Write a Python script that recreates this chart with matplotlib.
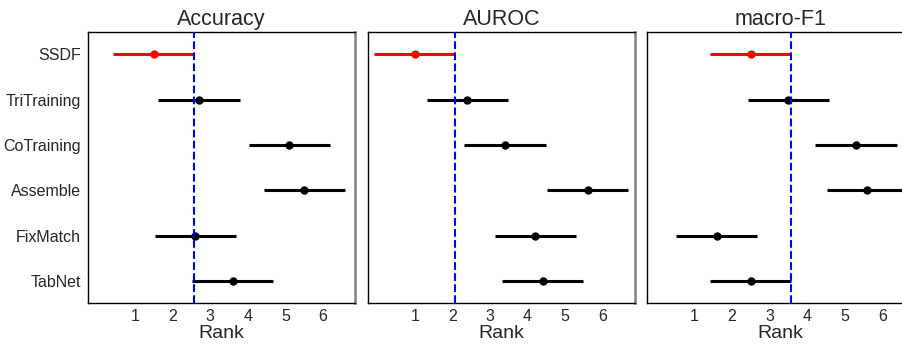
import matplotlib
matplotlib.use("Agg")
import matplotlib.pyplot as plt
import numpy as np

plt.rcParams['font.family'] = ['Liberation Sans', 'DejaVu Sans']

methods = ["SSDF", "TriTraining", "CoTraining", "Assemble", "FixMatch", "TabNet"]
metrics = ["Accuracy", "AUROC", "macro-F1"]
acc_ranks = [1.5, 2.7, 5.1, 5.5, 2.6, 3.6]
auroc_ranks = [1.0, 2.4, 3.4, 5.6, 4.2, 4.4]
f1_ranks = [2.5, 3.5, 5.3, 5.6, 1.6, 2.5]
cd_half = 1.078
xticks = [1, 2, 3, 4, 5, 6]

all_ranks = [acc_ranks, auroc_ranks, f1_ranks]

fig = plt.figure(figsize=(9.02, 3.48), dpi=100)
lefts = [0.0976, 0.4077, 0.7176]
w = 0.296
b = 0.128
h = 0.909 - 0.128
dark = '#262626'

for i, (metric, ranks) in enumerate(zip(metrics, all_ranks)):
    ax = fig.add_axes([lefts[i], b, w, h])
    y = np.arange(len(methods))
    for j, (m, r) in enumerate(zip(methods, ranks)):
        c = 'red' if j == 0 else 'black'
        ax.errorbar(r, j, xerr=cd_half, fmt='o', color=c, ecolor=c,
                    elinewidth=2.2, markersize=5, capsize=0, zorder=3)
    ax.axvline(ranks[0] + cd_half, color='blue', linestyle='--', linewidth=1.5, zorder=4)
    ax.set_xlim(-0.25, 6.85)
    ax.set_ylim(len(methods) - 0.5, -0.5)
    ax.set_xticks(xticks)
    ax.set_xticklabels([str(t) for t in xticks], fontsize=11.5, color=dark)
    ax.set_yticks(y)
    if i == 0:
        ax.set_yticklabels(methods, fontsize=11.5, color=dark)
    else:
        ax.set_yticklabels([])
    ax.tick_params(axis='y', length=0, pad=5)
    ax.tick_params(axis='x', length=0, pad=4)
    ax.set_xlabel("Rank", fontsize=14, color=dark, labelpad=1)
    ax.set_title(metric, fontsize=15.5, color=dark, pad=5)
    for s in ['left', 'bottom', 'top']:
        ax.spines[s].set_color('black')
        ax.spines[s].set_linewidth(1.0)
    ax.spines['right'].set_color('#808080')
    ax.spines['right'].set_linewidth(1.8)

fig.savefig("out.png", dpi=100)
